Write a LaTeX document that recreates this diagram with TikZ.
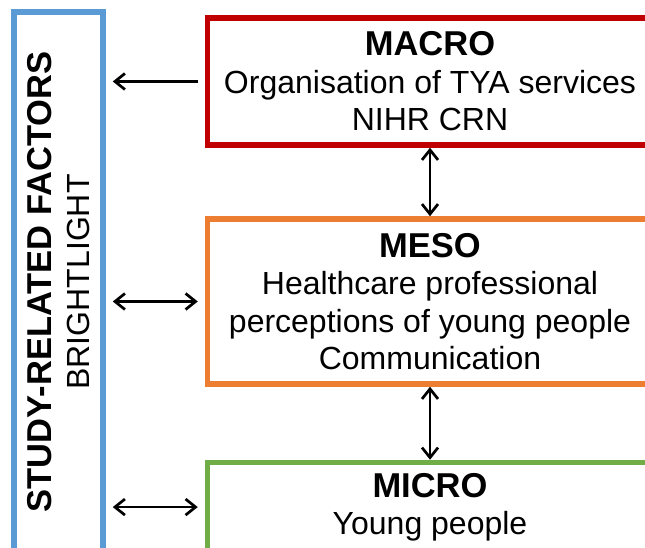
\documentclass[tikz,border=0pt]{standalone}
\usepackage{fontspec}
\setmainfont{Liberation Sans}
\usetikzlibrary{positioning}
\usetikzlibrary{arrows.meta}

\definecolor{macrored}{HTML}{C00000}
\definecolor{mesoorange}{HTML}{ED7D31}
\definecolor{microgreen}{HTML}{70AD47}
\definecolor{studyblue}{HTML}{5B9BD5}

\newcommand{\levelname}[1]{{\fontsize{34.5}{37}\selectfont\bfseries #1}}

\begin{document}
\begin{tikzpicture}[x=1pt, y=1pt,
        levelbox/.style={draw, line width=5.5pt, minimum width=445pt, inner sep=0pt, align=center, font=\fontsize{32}{37.5}\selectfont},
        link/.style={line width=2.7pt, >={Straight Barb[length=10pt,width=16pt]}}]
        \useasboundingbox (0,0) rectangle (645,547);
        \clip (0,0) rectangle (645,547);

        \node[levelbox, draw=macrored, minimum height=127pt] (macro) at (430,465.5) {\levelname{MACRO}\\Organisation of TYA services\\NIHR CRN};
        \node[levelbox, draw=mesoorange, minimum height=165pt, below=68.5pt of macro] (meso) {\levelname{MESO}\\Healthcare professional\\perceptions of young people\\Communication};
        \node[levelbox, draw=microgreen, minimum height=165pt, below=73pt of meso] (micro) {};
        \node[inner sep=0pt, align=center, font=\fontsize{32}{37.5}\selectfont, below=13pt of micro.north] (micro-text) {\levelname{MICRO}\\Young people};

        \node[draw=studyblue, line width=5.5pt, minimum width=89pt, minimum height=540pt] (study) at (58.5,265) {};
        \node[rotate=90, inner sep=0pt, align=center, font=\fontsize{32}{37.5}\selectfont] (study-text) at (study.center) {\levelname{STUDY-RELATED FACTORS}\\BRIGHTLIGHT};

        \draw[link, <-, shorten <=7pt, shorten >=7pt] (study.east |- macro.west) -- (macro.west);
        \draw[link, <->, shorten <=7pt, shorten >=7pt] (study.east |- meso.west) -- (meso.west);
        \draw[link, <->, shorten <=7pt, shorten >=7pt] (study.east |- micro-text) -- (micro.west |- micro-text);

        \draw[link, <->] (macro.south) -- (meso.north);
        \draw[link, <->] (meso.south) -- (micro.north);
    \end{tikzpicture}
\end{document}
